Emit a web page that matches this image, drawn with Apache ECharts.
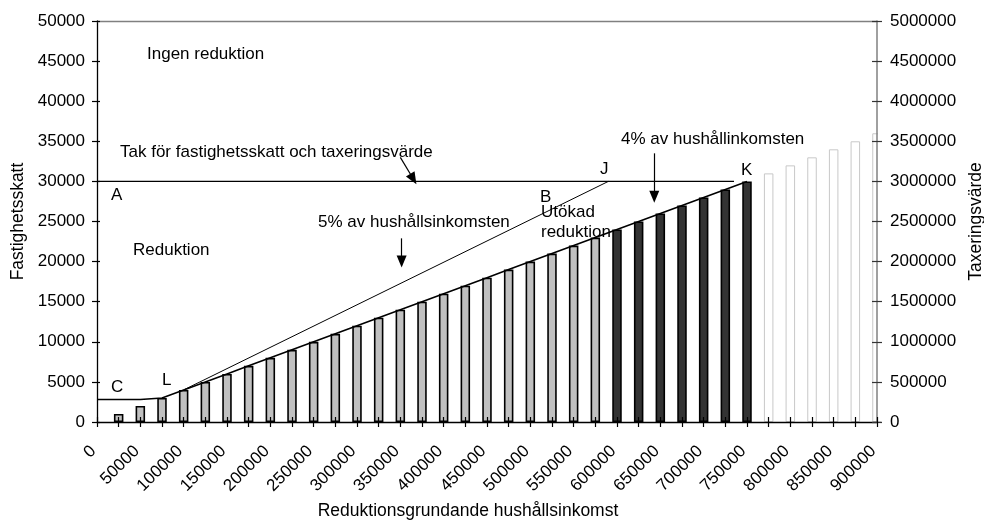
<!DOCTYPE html>
<html>
<head>
<meta charset="utf-8">
<script src="https://cdn.jsdelivr.net/npm/echarts@6/dist/echarts.min.js"></script>
<style>
html,body{margin:0;padding:0;background:#fff;}
#chart{width:984px;height:521px;}
</style>
</head>
<body>
<div id="chart"></div>
<script>
// ---- data ----
const barIncomeLight = [25000,50000,75000,100000,125000,150000,175000,200000,225000,250000,275000,300000,325000,350000,375000,400000,425000,450000,475000,500000,525000,550000,575000];
const barTaxLight = [1000,2000,3000,4000,5000,6000,7000,8000,9000,10000,11000,12000,13000,14000,15000,16000,17000,18000,19000,20000,21000,22000,23000];
const barIncomeDark = [600000,625000,650000,675000,700000,725000,750000];
const barTaxDark = [24000,25000,26000,27000,28000,29000,30000];
const barIncomeOpen = [775000,800000,825000,850000,875000,900000];
const barTaxOpen = [31000,32000,33000,34000,35000,36000];

const line4Income = [0,25000,50000,75000,100000,125000,150000,175000,200000,225000,250000,275000,300000,325000,350000,375000,400000,425000,450000,475000,500000,525000,550000,575000,600000,625000,650000,675000,700000,725000,750000];
const line4Tax = [2800,2800,2800,3000,4000,5000,6000,7000,8000,9000,10000,11000,12000,13000,14000,15000,16000,17000,18000,19000,20000,21000,22000,23000,24000,25000,26000,27000,28000,29000,30000];
const line5Income = [100000,590000];
const line5Tax = [4000,30000];
const capIncome = [0,735000];
const capTax = [30000,30000];

const arrowTak = [[350000,33000],[365000,30300]];
const arrow5 = [[351500,22900],[351500,20000]];
const arrow4 = [[643000,33500],[643000,28100]];

const xMin = 0, xMax = 900000, xStep = 25000;
const yLeftMax = 50000, yLeftStep = 5000;
const yRightMax = 5000000, yRightStep = 500000;

// ---- chart ----
const FONT = '"Liberation Sans", Arial, sans-serif';
const zip = (a, b) => a.map((v, i) => [v, b[i]]);

const barData = []
  .concat(zip(barIncomeLight, barTaxLight).map(v => ({value: v, itemStyle: {color: '#c0c0c0', borderColor: '#000', borderWidth: 1.6}})))
  .concat(zip(barIncomeDark, barTaxDark).map(v => ({value: v, itemStyle: {color: '#333333', borderColor: '#000', borderWidth: 1.6}})))
  .concat(zip(barIncomeOpen, barTaxOpen).map(v => ({value: v, itemStyle: {color: '#ffffff', borderColor: '#c8c8c8', borderWidth: 1}})));

const arrowLine = (pts) => [{coord: pts[0]}, {coord: pts[1]}];

const chart = echarts.init(document.getElementById('chart'), null, {renderer: 'canvas'});

const txt = (text, x, y) => ({type: 'text', x: x, y: y, silent: true, z: 10,
  style: {text: text, fill: '#000', font: '17px ' + FONT, align: 'left', verticalAlign: 'middle'}});

const hiddenTickAxis = (extra) => Object.assign({
  type: 'value', axisLine: {show: false, onZero: false}, axisLabel: {show: false}, splitLine: {show: false}
}, extra);

chart.setOption({
  animation: false,
  backgroundColor: '#fff',
  textStyle: {fontFamily: FONT},
  grid: {left: 97, right: 107, top: 21, bottom: 99, containLabel: false, outerBoundsMode: 'none'},
  xAxis: [{
    type: 'value', min: xMin, max: xMax, interval: xStep, z: 5,
    name: 'Reduktionsgrundande hushållsinkomst', nameLocation: 'middle', nameGap: 79,
    nameTextStyle: {fontSize: 17.5, color: '#000', fontFamily: FONT, padding: [0, 38, 0, 0]},
    axisLine: {show: true, onZero: false, lineStyle: {color: '#000', width: 1.3}},
    axisTick: {show: true, length: 5, lineStyle: {color: '#000', width: 1.2}},
    axisLabel: {rotate: 45, margin: 23, fontSize: 17, color: '#000', fontFamily: FONT,
      padding: [0, 5, 0, 0],
      formatter: v => (v % 50000 === 0 ? String(v) : '')},
    splitLine: {show: false}
  }, {
    type: 'value', position: 'top', min: xMin, max: xMax, z: 5,
    axisLine: {show: true, onZero: false, lineStyle: {color: '#808080', width: 1.3}},
    axisTick: {show: false}, axisLabel: {show: false}, splitLine: {show: false}
  }, hiddenTickAxis({
    position: 'bottom', min: xMin, max: xMax, interval: xStep, z: 5,
    axisTick: {show: true, inside: true, length: 5, lineStyle: {color: '#000', width: 1.2}}
  })],
  yAxis: [{
    type: 'value', min: 0, max: yLeftMax, interval: yLeftStep, z: 5,
    name: 'Fastighetsskatt', nameLocation: 'middle', nameGap: 69,
    nameTextStyle: {fontSize: 17.5, color: '#000', fontFamily: FONT},
    axisLine: {show: true, onZero: false, lineStyle: {color: '#000', width: 1.3}},
    axisTick: {show: true, length: 5, lineStyle: {color: '#000', width: 1.2}},
    axisLabel: {margin: 12, fontSize: 17, color: '#000', fontFamily: FONT, formatter: v => String(v)},
    splitLine: {show: false}
  }, {
    type: 'value', position: 'right', min: 0, max: yRightMax, interval: yRightStep, z: 5,
    name: 'Taxeringsvärde', nameLocation: 'middle', nameGap: 89, nameRotate: 90,
    nameTextStyle: {fontSize: 17.5, color: '#000', fontFamily: FONT},
    axisLine: {show: true, onZero: false, lineStyle: {color: '#808080', width: 1.5}},
    axisTick: {show: true, length: 5, lineStyle: {color: '#333', width: 1.2}},
    axisLabel: {margin: 13, fontSize: 17, color: '#000', fontFamily: FONT, formatter: v => String(v)},
    splitLine: {show: false}
  }, hiddenTickAxis({
    position: 'left', min: 0, max: yLeftMax, interval: yLeftStep, z: 5,
    axisTick: {show: true, inside: true, length: 3, lineStyle: {color: '#000', width: 1.2}}
  }), hiddenTickAxis({
    position: 'right', min: 0, max: yRightMax, interval: yRightStep, z: 5,
    axisTick: {show: true, inside: true, length: 5, lineStyle: {color: '#333', width: 1.2}}
  })],
  series: [{
    type: 'bar', xAxisIndex: 0, yAxisIndex: 0, barWidth: 9.5, clip: true,
    data: barData, z: 2
  }, {
    type: 'line', xAxisIndex: 0, yAxisIndex: 0, symbol: 'none', z: 3,
    lineStyle: {color: '#000', width: 1.6},
    data: zip(line4Income, line4Tax)
  }, {
    type: 'line', xAxisIndex: 0, yAxisIndex: 0, symbol: 'none', z: 3,
    lineStyle: {color: '#000', width: 1},
    data: zip(line5Income, line5Tax)
  }, {
    type: 'line', xAxisIndex: 0, yAxisIndex: 0, symbol: 'none', z: 3,
    lineStyle: {color: '#000', width: 1.4},
    data: zip(capIncome, capTax),
    markLine: {
      silent: true, animation: false,
      symbol: ['none', 'triangle'], symbolSize: [10, 12],
      label: {show: false},
      lineStyle: {color: '#000', width: 1.2, type: 'solid'},
      emphasis: {disabled: true},
      data: [arrowLine(arrowTak), arrowLine(arrow5), arrowLine(arrow4)]
    }
  }],
  graphic: [
    // mask the part of the edge bar that falls outside the plot area
    {type: 'rect', x: 878, y: 100, z: 4, silent: true, shape: {width: 8, height: 321}, style: {fill: '#fff'}},
    txt('Ingen reduktion', 147, 54),
    txt('Tak för fastighetsskatt och taxeringsvärde', 120, 152),
    txt('A', 111, 195),
    txt('Reduktion', 133, 250),
    txt('5% av hushållsinkomsten', 318, 222),
    txt('B', 540, 197),
    txt('J', 600, 169),
    txt('Utökad', 541, 212),
    txt('reduktion', 541, 232),
    txt('4% av hushållinkomsten', 621, 139),
    txt('K', 741, 170),
    txt('C', 111, 387),
    txt('L', 162, 380)
  ]
});
</script>
</body>
</html>
